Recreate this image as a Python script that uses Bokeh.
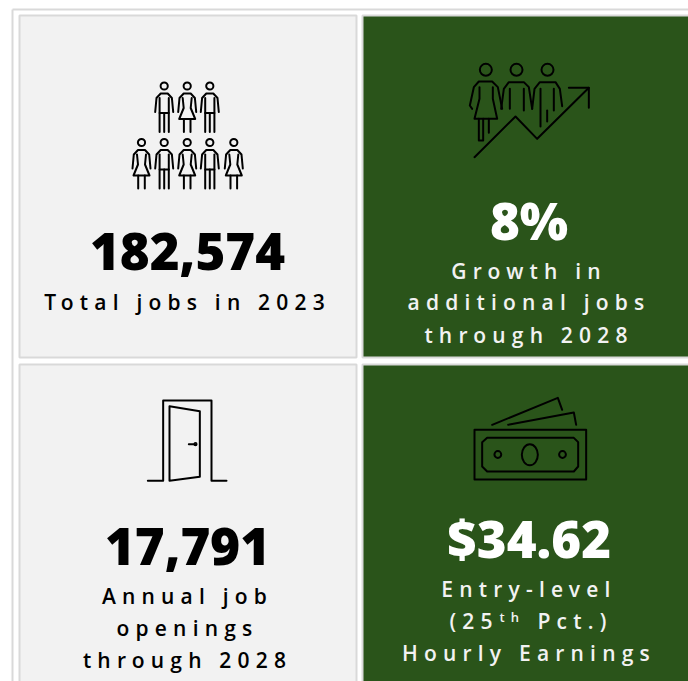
from bokeh.plotting import figure
from bokeh.layouts import column
from bokeh.models import Range1d
from bokeh.core.properties import value
from bokeh.embed import file_html
from bokeh.resources import INLINE

big_values = ["182,574", "8%", "17,791", "$34.62"]
captions_tl = ["Total jobs in 2023"]
captions_tr = ["Growth in", "additional jobs", "through 2028"]
captions_bl = ["Annual job", "openings", "through 2028"]
captions_br_1 = ["Entry-level"]
captions_br_3 = ["Hourly Earnings"]

W, H = 688, 681
GREEN = "#2a541a"
LIGHT = "#f2f2f2"
EDGE = "#d9d9d9"
BIG_FONT = value("'Open Sans ExtraBold','Open Sans'")
CAP_FONT = value("'Open Sans SemiBold','Open Sans'")
SP = 6.2
CAP_PX = 21
BIG_PX = 51
LEFT_C, RIGHT_C = 187, 528.5


def make(transparent, styles=None):
    p = figure(width=W, height=H, x_range=Range1d(0, W), y_range=Range1d(H, 0),
               output_backend="svg", toolbar_location=None, min_border=0,
               x_axis_type=None, y_axis_type=None, outline_line_color=None,
               background_fill_color=None if transparent else "white",
               border_fill_color=None if transparent else "white")
    p.grid.visible = False
    if transparent:
        p.margin = (-H, 0, 0, 0)
        p.styles = dict(styles, **{"pointer-events": "none"})
    return p


base = make(False)
cap = make(True, {"letter-spacing": f"{SP}px"})
big_black = make(True, {"-webkit-text-stroke": "1.3px #000000"})
big_white = make(True, {"-webkit-text-stroke": "1.3px #ffffff"})

# outer frame
base.segment([12, 12], [9, 9], [12, 700], [700, 9], line_color=EDGE, line_width=2)
# panels
base.quad(left=[19], right=[356], top=[15], bottom=[357], fill_color=LIGHT, line_color=EDGE, line_width=2)
base.quad(left=[19], right=[356], top=[364], bottom=[720], fill_color=LIGHT, line_color=EDGE, line_width=2)
base.quad(left=[362], right=[720], top=[15], bottom=[357], fill_color=GREEN, line_color=EDGE, line_width=2)
base.quad(left=[362], right=[720], top=[364], bottom=[720], fill_color=GREEN, line_color=EDGE, line_width=2)


def big(p, s, x, y, color):
    p.text([x], [y - 0.36 * BIG_PX], text=[s], text_font=BIG_FONT, text_font_style="bold",
           text_font_size=f"{BIG_PX}px", text_align="center", text_baseline="alphabetic", text_color=color)


def caps(lines, cx, ys, color):
    for s, y in zip(lines, ys):
        cap.text([cx - len(s) * SP / 2], [y - 0.36 * CAP_PX], text=[s], text_font=CAP_FONT,
                 text_font_size=f"{CAP_PX}px", text_align="center", text_baseline="alphabetic", text_color=color)


def path(pts, ox, oy, w=2, k=1 / 3):
    base.line([ox + a * k for a, b in pts], [oy + b * k for a, b in pts], line_color="black",
              line_width=w, line_join="round", line_cap="round")


def ring(x, y, r, w=2):
    base.circle([x], [y], radius=r, fill_color=None, line_color="black", line_width=w)


def person(cx, hy, woman):
    ring(cx, hy, 3.6)
    k = 1
    path([(-9, 26), (-7.7, 12), (-3.5, 7.5), (3.5, 7.5), (7.7, 12), (9, 26)], cx, hy, k=k)
    if woman:
        path([(-4.5, 12), (-3.5, 22), (-8, 33), (8, 33), (3.5, 22), (4.5, 12)], cx, hy, k=k)
        path([(-3.3, 33), (-3.3, 46)], cx, hy, k=k)
        path([(3.3, 33), (3.3, 46)], cx, hy, k=k)
    else:
        path([(-4.6, 12), (-4.6, 46)], cx, hy, k=k)
        path([(4.6, 12), (4.6, 46)], cx, hy, k=k)
        path([(-4.6, 27), (4.6, 27)], cx, hy, k=k)
        path([(0, 27), (0, 46)], cx, hy, k=k)


# ---- top left
for cx, w in [(163.7, False), (186.7, True), (209.3, False)]:
    person(cx, 85.5, w)
for cx, w in [(141, True), (163.7, False), (186.7, True), (209.3, False), (233.3, True)]:
    person(cx, 142, w)
big(big_black, big_values[0], LEFT_C, 269.5, "black")
caps(captions_tl, LEFT_C, [309.5], "black")

# ---- top right
ox, oy = 460, 55
for hx in (76, 168, 261):
    ring(ox + hx / 3, oy + 43 / 3, 6)
for pts in [
    [(35, 160), (28, 150), (40, 95), (55, 78), (95, 78), (112, 95), (125, 160)],
    [(57, 95), (57, 130), (42, 190), (110, 190), (97, 130), (97, 95)],
    [(55, 190), (55, 255), (68, 255), (68, 190)],
    [(85, 190), (85, 232)],
    [(122, 160), (130, 100), (145, 80), (190, 80), (205, 95), (215, 160)],
    [(148, 100), (148, 160)],
    [(190, 100), (190, 165)],
    [(215, 160), (222, 100), (238, 80), (285, 80), (298, 100), (305, 152)],
    [(240, 100), (240, 213)],
    [(280, 100), (280, 165)],
    [(260, 165), (260, 198)],
    [(42, 305), (165, 183), (230, 250), (385, 97)],
    [(325, 97), (385, 97), (385, 157)],
]:
    path(pts, ox, oy)
big(big_white, big_values[1], RIGHT_C, 237.5, "white")
caps(captions_tr, RIGHT_C, [278, 309.5, 342], "#f2f2f2")

# ---- bottom left
ox, oy = 140, 390
for pts in [
    [(22, 271), (68, 271), (68, 30), (213, 30), (213, 271), (258, 271)],
    [(87, 47), (87, 271), (178, 259), (178, 62), (87, 47)],
    [(145, 161), (165, 161)],
]:
    path(pts, ox, oy)
ring(ox + 165 / 3, oy + 161 / 3, 1.3, w=1.5)
big(big_black, big_values[2], LEFT_C, 564, "black")
caps(captions_bl, LEFT_C, [603, 635, 667], "black")

# ---- bottom right
ox, oy = 465, 390
for pts in [
    [(27, 118), (362, 118), (362, 267), (27, 267), (27, 118)],
    [(65, 142), (325, 142), (338, 155), (338, 228), (325, 243), (65, 243), (50, 228), (50, 155), (65, 142)],
    [(80, 103), (277, 22), (290, 58)],
    [(128, 103), (325, 66), (332, 103)],
]:
    path(pts, ox, oy)
base.ellipse([ox + 193 / 3], [oy + 193 / 3], width=[16], height=[21], fill_color=None, line_color="black", line_width=2)
ring(ox + 97 / 3, oy + 192 / 3, 3.4)
ring(ox + 291 / 3, oy + 192 / 3, 3.4)
big(big_white, big_values[3], RIGHT_C, 556, "white")
caps(captions_br_1, RIGHT_C, [596], "#f2f2f2")
caps(captions_br_3, RIGHT_C, [660.5], "#f2f2f2")
for s, x, y, size in [("(25", 449, 628, CAP_PX), ("th", 499, 621, 13), ("Pct.)", 537, 628, CAP_PX)]:
    cap.text([x], [y - 0.36 * size], text=[s], text_font=CAP_FONT, text_font_size=f"{size}px", text_align="left",
             text_baseline="alphabetic", text_color="#f2f2f2")

layout = column(base, cap, big_black, big_white)
open("out.html", "w").write(file_html(layout, INLINE))
